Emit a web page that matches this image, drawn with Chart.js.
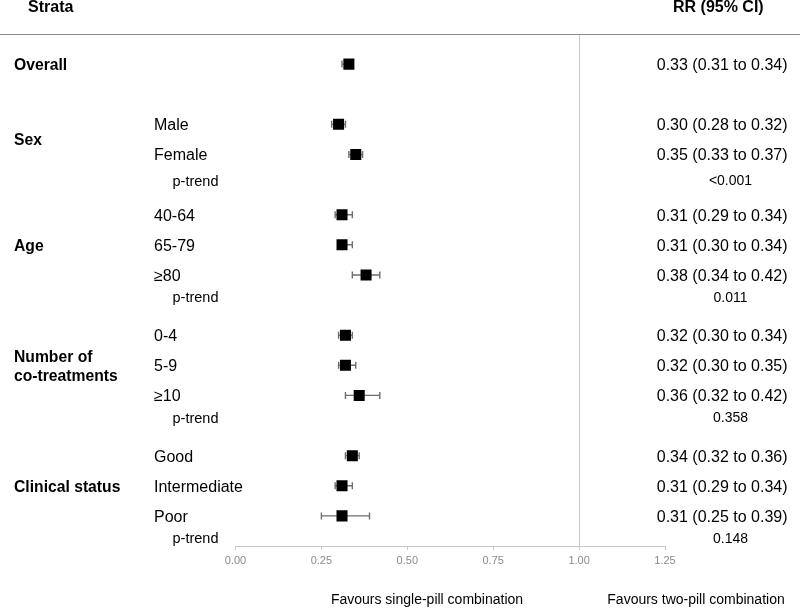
<!DOCTYPE html>
<html>
<head>
<meta charset="utf-8">
<script src="https://cdn.jsdelivr.net/npm/chart.js@4"></script>
<style>
html,body{margin:0;padding:0;background:#fff;}
#wrap{width:800px;height:608px;position:relative;}
</style>
</head>
<body>
<div id="wrap"><canvas id="c" width="800" height="608"></canvas></div>
<script>
// ---- data ----
const groupLabels = ['Overall', 'Sex', 'Age', 'Number of\nco-treatments', 'Clinical status'];
const groupRows = [0, 2.5, 6, 10, 14];
const subLabels = ['', 'Male', 'Female', '40-64', '65-79', '≥80', '0-4', '5-9', '≥10', 'Good', 'Intermediate', 'Poor'];
const rows = [0, 2, 3, 5, 6, 7, 9, 10, 11, 13, 14, 15];
const rr = [0.33, 0.30, 0.35, 0.31, 0.31, 0.38, 0.32, 0.32, 0.36, 0.34, 0.31, 0.31];
const lower = [0.31, 0.28, 0.33, 0.29, 0.30, 0.34, 0.30, 0.30, 0.32, 0.32, 0.29, 0.25];
const upper = [0.34, 0.32, 0.37, 0.34, 0.34, 0.42, 0.34, 0.35, 0.42, 0.36, 0.34, 0.39];
const pTrendRows = [3.85, 7.72, 11.72, 15.72];
const pTrendValues = ['<0.001', '0.011', '0.358', '0.148'];
const xTicks = [0, 0.25, 0.5, 0.75, 1.0, 1.25];
const favourLabels = ['Favours single-pill combination', 'Favours two-pill combination'];
const headers = ['Strata', 'RR (95% CI)'];

const FONT = '"Liberation Sans", Arial, Helvetica, sans-serif';
const fmt = v => v.toFixed(2);

const forestPlugin = {
  id: 'forest',
  beforeDatasetsDraw(chart) {
    const {ctx, scales: {x, y}, chartArea} = chart;
    ctx.save();
    // reference line at 1
    const x1 = x.getPixelForValue(1);
    ctx.strokeStyle = '#c8c8c8';
    ctx.lineWidth = 1;
    ctx.beginPath();
    ctx.moveTo(Math.round(x1) + 0.5, chartArea.top);
    ctx.lineTo(Math.round(x1) + 0.5, chartArea.bottom);
    ctx.stroke();
    // header rule
    ctx.strokeStyle = '#8c8c8c';
    ctx.beginPath();
    ctx.moveTo(0, Math.round(chartArea.top) + 0.5);
    ctx.lineTo(chart.width, Math.round(chartArea.top) + 0.5);
    ctx.stroke();
    // error bars
    ctx.strokeStyle = '#6e6e6e';
    ctx.lineWidth = 1.4;
    for (let i = 0; i < rr.length; i++) {
      const yp = y.getPixelForValue(rows[i]);
      const xl = x.getPixelForValue(lower[i]);
      const xh = x.getPixelForValue(upper[i]);
      ctx.beginPath();
      ctx.moveTo(xl, yp); ctx.lineTo(xh, yp);
      ctx.moveTo(xl, yp - 3.5); ctx.lineTo(xl, yp + 3.5);
      ctx.moveTo(xh, yp - 3.5); ctx.lineTo(xh, yp + 3.5);
      ctx.stroke();
    }
    ctx.restore();
  },
  afterDraw(chart) {
    const {ctx, scales: {x, y}} = chart;
    ctx.save();
    ctx.fillStyle = '#000';
    ctx.textBaseline = 'middle';
    const off = 1.5;
    // headers
    ctx.font = 'bold 16px ' + FONT;
    ctx.textAlign = 'left';
    ctx.fillText(headers[0], 28, 8);
    ctx.fillText(headers[1], 673, 8);
    // group labels
    ctx.font = 'bold 15.7px ' + FONT;
    groupLabels.forEach((g, i) => {
      const lines = g.split('\n');
      const yc = y.getPixelForValue(groupRows[i]) + off;
      lines.forEach((ln, k) => {
        ctx.fillText(ln, 14, yc + (k - (lines.length - 1) / 2) * 19);
      });
    });
    // sub labels
    ctx.font = '16px ' + FONT;
    subLabels.forEach((s, i) => {
      if (s) ctx.fillText(s, 154, y.getPixelForValue(rows[i]) + off);
    });
    // p-trend
    ctx.font = '14.5px ' + FONT;
    pTrendRows.forEach(r => ctx.fillText('p-trend', 172.5, y.getPixelForValue(r) + off));
    // RR text
    ctx.font = '16px ' + FONT;
    ctx.textAlign = 'right';
    rr.forEach((v, i) => {
      ctx.fillText(fmt(v) + ' (' + fmt(lower[i]) + ' to ' + fmt(upper[i]) + ')', 787.5, y.getPixelForValue(rows[i]) + off);
    });
    // p values
    ctx.font = '14px ' + FONT;
    ctx.textAlign = 'center';
    pTrendRows.forEach((r, i) => ctx.fillText(pTrendValues[i], 730.5, y.getPixelForValue(r) + off));
    // favours labels
    ctx.font = '14px ' + FONT;
    ctx.fillText(favourLabels[0], 427, 600);
    ctx.fillText(favourLabels[1], 696, 600);
    ctx.restore();
  }
};

new Chart(document.getElementById('c'), {
  type: 'scatter',
  data: {
    datasets: [{
      data: rr.map((v, i) => ({x: v, y: rows[i]})),
      pointStyle: 'rect',
      pointRadius: 7.8,
      pointHoverRadius: 7.8,
      backgroundColor: '#000',
      borderColor: '#000',
      borderWidth: 0
    }]
  },
  options: {
    responsive: false,
    animation: false,
    events: [],
    layout: {padding: {left: 235.5, right: 135, top: 34, bottom: 32}},
    plugins: {legend: {display: false}, tooltip: {enabled: false}},
    scales: {
      x: {
        type: 'linear',
        min: 0, max: 1.25,
        afterFit: s => { s.height = 30; },
        afterBuildTicks: s => { s.ticks = xTicks.map(v => ({value: v})); },
        ticks: {
          callback: v => Number(v).toFixed(2),
          color: '#8a8a8a',
          font: {family: FONT, size: 11},
          padding: 4,
          maxRotation: 0,
          autoSkip: false
        },
        grid: {drawOnChartArea: false, drawTicks: true, tickLength: 4, color: '#c8c8c8'},
        border: {display: true, color: '#c8c8c8', width: 1}
      },
      y: {
        type: 'linear',
        display: false,
        reverse: true,
        min: -1, max: 16
      }
    }
  },
  plugins: [forestPlugin]
});
</script>
</body>
</html>
